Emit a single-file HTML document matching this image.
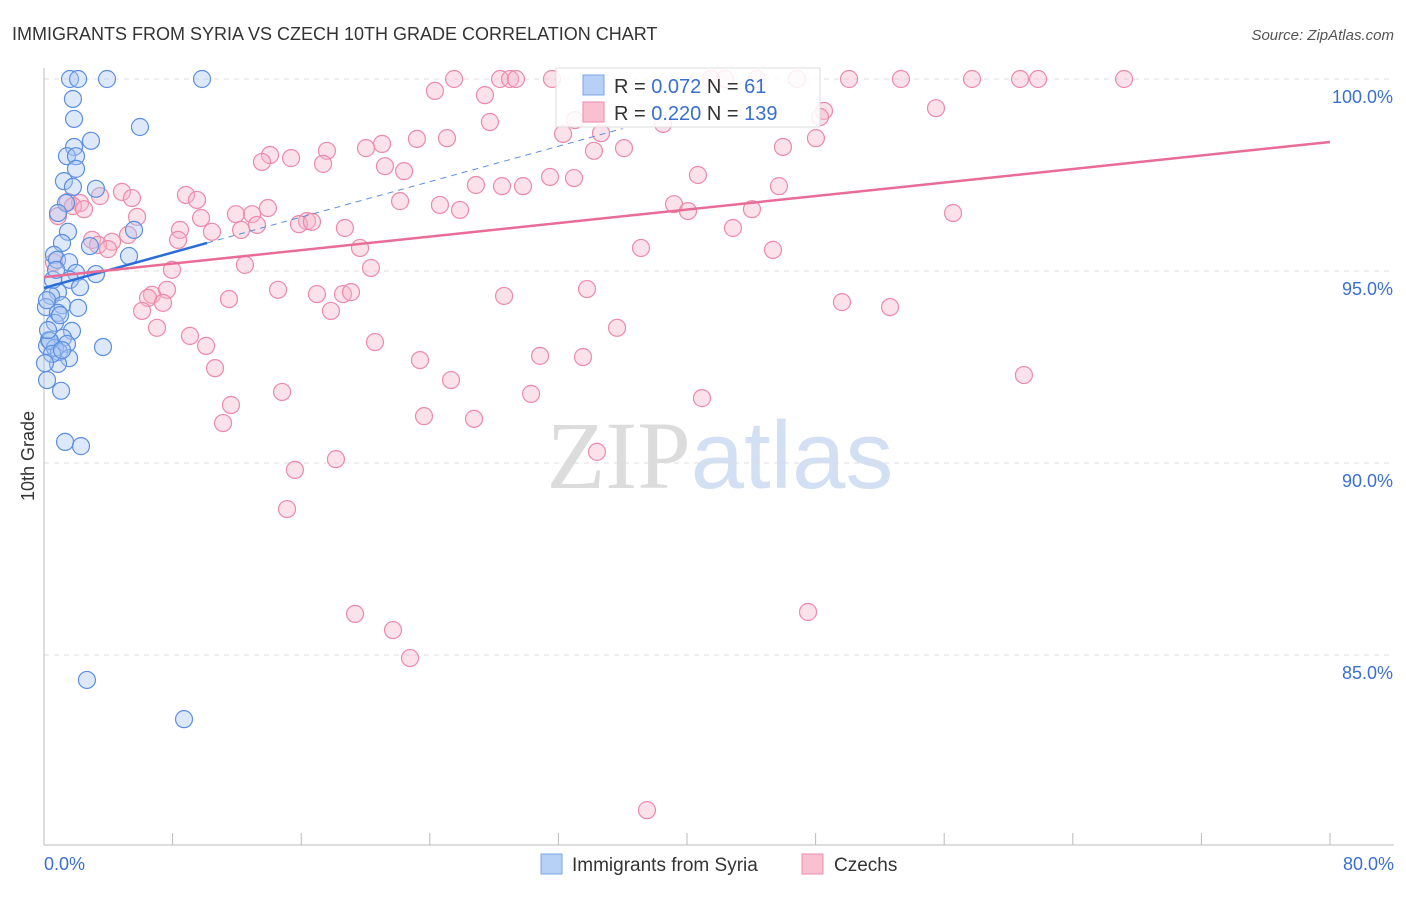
<!DOCTYPE html>
<html><head><meta charset="utf-8"><style>
body{margin:0;background:#fff;font-family:"Liberation Sans",sans-serif;}
svg text{font-family:"Liberation Sans",sans-serif;}
</style></head><body>
<svg id="chart" width="1406" height="892" viewBox="0 0 1406 892" xmlns="http://www.w3.org/2000/svg">
<text x="12" y="40" font-size="18" fill="#333">IMMIGRANTS FROM SYRIA VS CZECH 10TH GRADE CORRELATION CHART</text>
<text x="1394" y="40" font-size="15" fill="#555" font-style="italic" text-anchor="end">Source: ZipAtlas.com</text>
<text x="720" y="488" font-size="96" text-anchor="middle"><tspan fill="#dcdcdc" font-family="Liberation Serif">ZIP</tspan><tspan fill="#d3e0f3">atlas</tspan></text>
<text transform="translate(34,456) rotate(-90)" font-size="18" fill="#333" text-anchor="middle">10th Grade</text>
<g id="grid"></g><g id="axes"></g><g id="pts"></g><g id="trends"></g>
<g>
<rect x="556" y="68" width="264" height="59" fill="#fff" fill-opacity="0.85" stroke="#ddd"/>
<rect x="583" y="75" width="21" height="20" fill="#b7d0f5" stroke="#7aa6e6"/>
<rect x="583" y="102" width="21" height="20" fill="#f8c0d0" stroke="#ec8aaa"/>
<text x="614" y="93" font-size="20" fill="#333">R = <tspan fill="#3a6fd0">0.072</tspan>   N = <tspan fill="#3a6fd0">  61</tspan></text>
<text x="614" y="120" font-size="20" fill="#333">R = <tspan fill="#3a6fd0">0.220</tspan>   N = <tspan fill="#3a6fd0">139</tspan></text>
</g>
<g>
<rect x="541" y="854" width="21" height="20" fill="#b7d0f5" stroke="#7aa6e6"/>
<text x="572" y="871" font-size="19" fill="#333">Immigrants from Syria</text>
<rect x="802" y="854" width="21" height="20" fill="#f8c0d0" stroke="#ec8aaa"/>
<text x="834" y="871" font-size="19" fill="#333">Czechs</text>
</g>
</svg>
<script>
const yTicks=[100,95,90,85];
const yTickLabels=["100.0%","95.0%","90.0%","85.0%"];
const xTickLabels=["0.0%","80.0%"];
const syriaX=[1.62,2.12,3.92,9.83,1.80,1.87,5.97,2.92,1.87,1.43,1.99,1.99,1.24,1.80,3.23,1.37,0.87,5.60,1.49,1.12,2.86,0.62,5.29,0.81,1.56,1.99,3.23,1.62,2.24,0.87,0.44,1.12,0.12,2.12,0.87,0.68,1.74,1.18,0.31,1.43,0.19,0.68,0.93,3.67,1.56,0.87,0.19,1.06,1.31,2.30,2.67,8.71,0.37,0.50,0.06,0.25,1.00,0.56,0.19,0.75,1.12];
const syriaY=[100,100,100,100,99.48,98.96,98.75,98.39,98.23,97.99,97.99,97.66,97.34,97.19,97.14,96.77,96.51,96.07,96.02,95.73,95.65,95.42,95.39,95.29,95.23,94.95,94.92,94.77,94.58,94.45,94.35,94.11,94.06,94.04,93.91,93.65,93.44,93.26,93.20,93.10,93.05,93.00,92.89,93.02,92.73,92.58,92.16,91.88,90.55,90.44,84.35,83.33,93.18,92.84,92.60,93.46,93.85,94.77,94.24,95.03,92.94];
const czechX=[25.51,28.37,28.99,29.36,31.60,44.35,46.84,50.08,53.31,57.73,60.72,61.84,67.19,41.49,42.36,24.32,27.43,38.51,48.52,48.27,55.49,27.74,33.03,32.29,34.65,48.02,23.20,25.07,21.03,20.03,17.60,45.97,34.21,36.08,14.06,15.37,13.56,17.36,21.21,22.40,40.68,26.87,28.49,29.80,31.48,32.97,45.72,4.85,5.47,8.83,9.52,3.48,1.49,2.24,1.80,2.49,22.15,24.63,25.88,39.19,40.06,44.04,56.55,0.87,5.79,9.77,11.94,12.94,13.93,16.36,15.86,16.67,13.25,18.72,8.46,10.45,12.26,42.86,5.23,2.99,4.23,8.34,3.36,3.98,19.66,37.14,45.35,0.62,12.50,7.96,20.34,7.65,14.56,16.98,18.60,19.10,6.72,6.47,11.51,28.62,33.78,49.64,52.63,6.10,7.40,17.85,7.03,35.65,9.08,10.08,20.59,30.86,33.53,23.39,10.64,25.32,60.96,14.81,30.30,40.93,11.63,11.14,23.64,26.75,34.40,15.61,18.16,15.12,19.35,21.71,22.77,47.53,37.51];
const czechY=[100,100,100,100,100,100,100,100,100,100,100,100,100,100,100,99.69,99.58,98.83,99.17,99.01,99.24,98.88,98.93,98.57,98.59,98.46,98.44,98.46,98.31,98.20,98.13,98.23,98.13,98.20,98.02,97.94,97.84,97.79,97.73,97.60,97.50,97.24,97.21,97.21,97.45,97.42,97.21,97.06,96.90,96.98,96.85,96.95,96.80,96.77,96.69,96.61,96.82,96.72,96.59,96.74,96.56,96.61,96.51,96.43,96.41,96.38,96.48,96.48,96.64,96.30,96.22,96.28,96.20,96.12,96.07,96.02,96.07,96.12,95.94,95.81,95.76,95.81,95.68,95.57,95.60,95.60,95.55,95.23,95.16,95.03,95.08,94.51,94.51,94.40,94.40,94.45,94.38,94.30,94.27,94.35,94.53,94.19,94.06,93.96,94.17,93.96,93.52,93.52,93.31,93.05,93.15,92.79,92.76,92.68,92.47,92.16,92.29,91.85,91.80,91.69,91.51,91.04,91.22,91.15,90.29,89.82,90.10,88.80,86.07,85.65,84.92,86.12,80.96];
const syriaTrend=[94.56,95.73]; const syriaTrendX=[0,10.15,36];
const czechTrend=[94.84,98.36];
const NS="http://www.w3.org/2000/svg";
const X=v=>44+v*16.075, Y=v=>79+(100-v)*38.4;
function mk(tag,attrs,parent){const e=document.createElementNS(NS,tag);for(const k in attrs)e.setAttribute(k,attrs[k]);document.getElementById(parent).appendChild(e);return e;}
yTicks.forEach((t,i)=>{
 const g=mk('line',{x1:44,x2:1394,y1:Y(t),y2:Y(t),stroke:'#ddd','stroke-dasharray':'5,5'},'grid');
 
 
 const l=mk('text',{x:1393,y:Y(t)+24,'font-size':18,fill:'#3a6fd0','text-anchor':'end'},'grid');
 
 
 l.textContent=yTickLabels[i];
});
let ax=mk('line',{x1:44,x2:44,y1:68,y2:845,stroke:'#bbb'},'axes');


ax=mk('line',{x1:44,x2:1394,y1:845,y2:845,stroke:'#bbb'},'axes');


for(let i=0;i<=10;i++){const t=mk('line',{x1:X(i*8),x2:X(i*8),y1:833,y2:845,stroke:'#bbb'},'axes');
 
 }
[[0,'start',44],[80,'end',1394]].forEach((a,i)=>{const t=mk('text',{x:a[2],y:870,'font-size':18,fill:'#3a6fd0','text-anchor':a[1]},'axes');
 
 
 t.textContent=xTickLabels[i];});
czechX.forEach((x,i)=>{const c=mk('circle',{cx:X(x),cy:Y(czechY[i]),r:8.5,fill:'#f6b3c7','fill-opacity':0.4,stroke:'#ec8aaa','stroke-width':1.2},'pts');
 
 });
syriaX.forEach((x,i)=>{const c=mk('circle',{cx:X(x),cy:Y(syriaY[i]),r:8.5,fill:'#a9c6f2','fill-opacity':0.4,stroke:'#5b8fe0','stroke-width':1.2},'pts');
 
 });
const slope=(syriaTrend[1]-syriaTrend[0])/syriaTrendX[1];
let tl=mk('line',{x1:X(syriaTrendX[1]),y1:Y(syriaTrend[1]),x2:X(syriaTrendX[2]),y2:Y(syriaTrend[0]+slope*syriaTrendX[2]),stroke:'#5b8fe0','stroke-width':1,'stroke-dasharray':'6,5'},'trends');


tl=mk('line',{x1:X(0),y1:Y(syriaTrend[0]),x2:X(syriaTrendX[1]),y2:Y(syriaTrend[1]),stroke:'#2a6dd8','stroke-width':2.5},'trends');


tl=mk('line',{x1:X(0),y1:Y(czechTrend[0]),x2:X(80),y2:Y(czechTrend[1]),stroke:'#e86c97','stroke-width':2.5},'trends');


</script>
</body></html>
